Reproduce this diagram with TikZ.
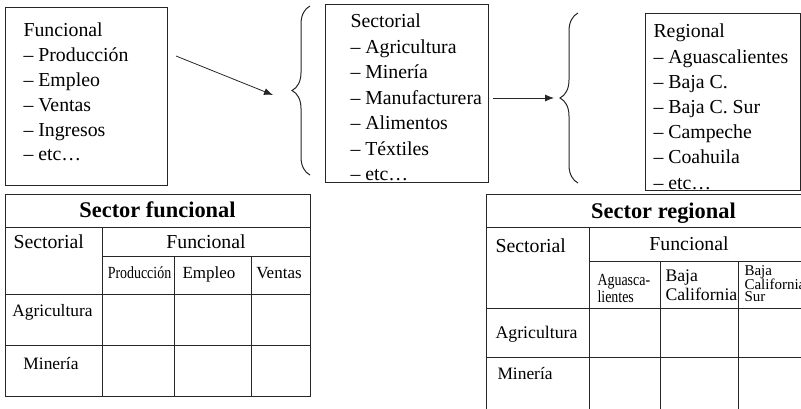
\documentclass[tikz,border=0pt]{standalone}
\usepackage{fontspec}
\setmainfont{Liberation Serif}
\newfontfamily\narrowfont[FakeStretch=0.82]{Liberation Serif}
\usepackage{tikz}
\usetikzlibrary{arrows.meta,decorations.pathreplacing}

\newcommand\listfont{\fontsize{19.8}{24.8}\selectfont}
\newcommand\cellfont{\fontsize{17.4}{19}\selectfont}
\newcommand\headfont{\fontsize{22.4}{24}\selectfont\bfseries}

\tikzset{
  box/.style={draw=black!85,inner sep=0pt,anchor=north west},
  list/.style={inner sep=0pt,anchor=north west,align=left,font=\listfont},
  cell/.style={inner sep=0pt,anchor=base,font=\cellfont},
  arr/.style={-{Latex[length=9pt,width=7pt]},draw=black!85,line width=0.8pt},
  curly/.style={decorate,decoration={brace,amplitude=18pt},draw=black!85}
}

\begin{document}
\begin{tikzpicture}[x=1pt,y=-1pt,line width=1pt]
                    \useasboundingbox (0,0) rectangle (801,408);
                    \clip (0,0) rectangle (801,408);

                    \node[box,minimum width=162,minimum height=178] (funbox) at (5,7) {};
                    \node[list] (funlist) at (23,22.6) {Funcional\\– Producción\\– Empleo\\– Ventas\\– Ingresos\\– etc…};

                    \node[box,minimum width=163,minimum height=178] (secbox) at (325,4) {};
                    \node[list,font=\fontsize{19.8}{25.5}\selectfont] (seclist) at (350,13.6) {Sectorial\\– Agricultura\\– Minería\\– Manufacturera\\– Alimentos\\– Téxtiles\\– etc…};

                    \node[box,minimum width=155,minimum height=177] (regbox) at (645,13) {};
                    \node[list,font=\fontsize{19.8}{25.2}\selectfont] (reglist) at (653,23.6) {Regional\\– Aguascalientes\\– Baja C.\\– Baja C. Sur\\– Campeche\\– Coahuila\\– etc…};

                    \coordinate (b1bot) at (310,175);
                    \coordinate (b1top) at (310,6);
                    \coordinate (b2bot) at (578,183);
                    \coordinate (b2top) at (578,13);
                    \draw[curly] (b1bot) -- (b1top);
                    \draw[curly] (b2bot) -- (b2top);

                    \coordinate (a1from) at (176,56);
                    \coordinate (a1to) at (273,95);
                    \coordinate (a2from) at (493,98);
                    \coordinate (a2to) at (554,98);
                    \draw[arr] (a1from) -- (a1to);
                    \draw[arr] (a2from) -- (a2to);

                    \draw[black!85] (5,194) rectangle (310,396);
                    \draw[black!85] (5,227) -- (310,227) (102,256) -- (310,256) (5,294) -- (310,294) (5,345) -- (310,345);
                    \draw[black!85] (102,227) -- (102,396) (174,256) -- (174,396) (251,256) -- (251,396);

                    \node[cell,font=\headfont] (fhead) at (157.5,217) {Sector funcional};
                    \node[cell,anchor=base west,font=\listfont] (fsec) at (13,248) {Sectorial};
                    \node[cell,font=\listfont] (ffun) at (206,248) {Funcional};
                    \node[cell,font=\fontsize{17}{19}\narrowfont] (fprod) at (139.5,278) {Producción};
                    \node[cell,font=\fontsize{17}{19}\selectfont] (femp) at (209,278) {Empleo};
                    \node[cell,font=\fontsize{17}{19}\selectfont] (fven) at (279,278) {Ventas};
                    \node[cell] (fagr) at (52.5,316) {Agricultura};
                    \node[cell] (fmin) at (51,369) {Minería};

                    \draw[black!85] (486,194) rectangle (840,412);
                    \draw[black!85] (486,227) -- (840,227) (589,261) -- (840,261) (486,308) -- (840,308) (486,357) -- (840,357);
                    \draw[black!85] (589,227) -- (589,412) (660,261) -- (660,412) (738,261) -- (738,412);

                    \node[cell,font=\headfont] (rhead) at (663.5,218) {Sector regional};
                    \node[cell,anchor=base west,font=\listfont] (rsec) at (495,252) {Sectorial};
                    \node[cell,font=\listfont] (rfun) at (689,250) {Funcional};
                    \node[list,font=\fontsize{17}{17}\narrowfont] (rags) at (597,273.8) {Aguasca-\\lientes};
                    \node[list,font=\fontsize{17.7}{19}\selectfont] (rbc) at (665,269) {Baja\\California};
                    \node[list,font=\fontsize{15}{12}\selectfont] (rbcs) at (744,264.8) {Baja\\California\\Sur};
                    \node[cell,anchor=base west,font=\fontsize{17.8}{19}\selectfont] (ragr) at (495,338) {Agricultura};
                    \node[cell,anchor=base west] (rmin) at (497,379) {Minería};
                \end{tikzpicture}
\end{document}
